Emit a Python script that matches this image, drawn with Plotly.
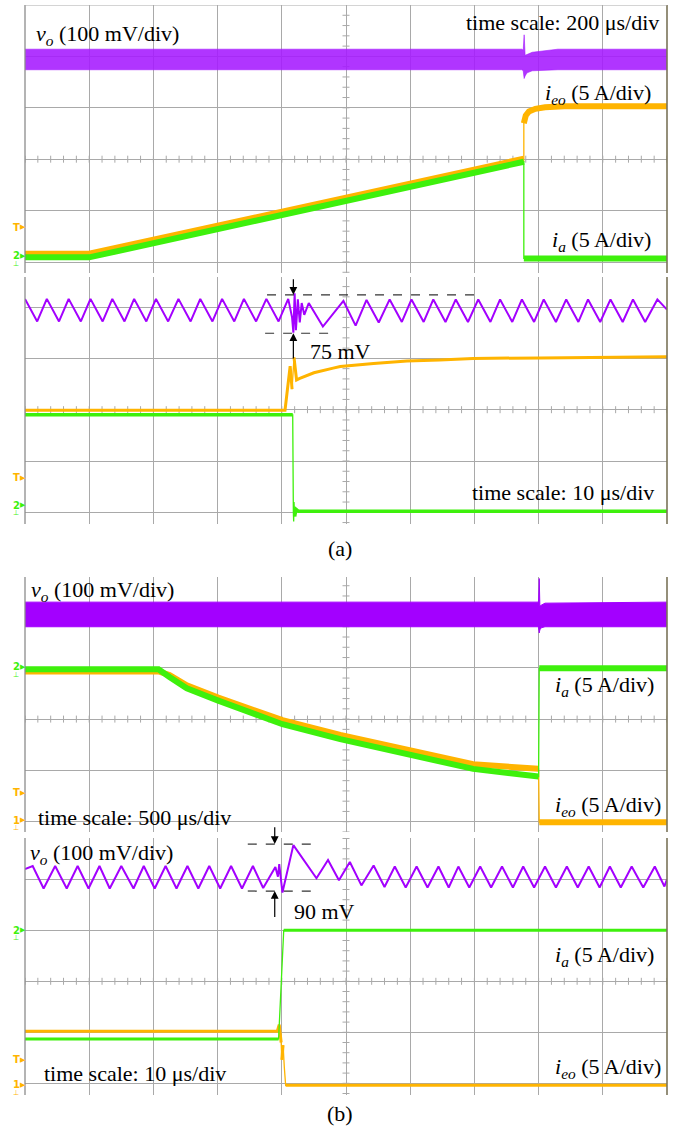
import plotly.graph_objects as go
import numpy as np

W, H = 680, 1134
SERIF = "Liberation Serif"
PURPLE = "#a300ff"
GREEN = "#3ef00c"
ORANGE = "#ffb400"
GRID = "#a9a9a9"

# ---------------- data (screen divisions) ----------------
# (a) top: 200 us/div
a1_vo_t = [0, 7.74, 7.76, 7.775, 7.79, 7.82, 7.9, 8.3, 10]
a1_vo_hi = [4.14, 4.14, 4.12, 4.42, 4.02, 4.04, 4.08, 4.14, 4.14]
a1_vo_lo = [3.74, 3.74, 3.72, 3.57, 3.62, 3.68, 3.72, 3.74, 3.74]
a1_ieo_t = [0, 1.0, 7.77, 7.77, 7.80, 7.85, 7.95, 8.1, 8.4, 10]
a1_ieo_v = [0.16, 0.16, 2.01, 2.70, 2.85, 2.93, 2.98, 3.01, 3.03, 3.03]
a1_ia_t = [0, 1.0, 7.77, 7.77, 10]
a1_ia_v = [0.09, 0.09, 1.95, 0.07, 0.07]

# (a) bottom: 10 us/div
a2_vo_t = [0.00, 0.19, 0.34, 0.53, 0.68, 0.87, 1.02, 1.21, 1.36, 1.55, 1.70, 1.89,
           2.04, 2.23, 2.39, 2.58, 2.73, 2.92, 3.07, 3.26, 3.41, 3.60, 3.76, 3.95,
           4.10, 4.16, 4.18, 4.20, 4.22, 4.25, 4.28, 4.31, 4.35, 4.42, 4.64, 4.96,
           5.15, 5.32, 5.51, 5.68, 5.87, 6.02, 6.21, 6.36, 6.55, 6.71, 6.90, 7.06,
           7.25, 7.40, 7.59, 7.74, 7.93, 8.08, 8.27, 8.43, 8.62, 8.77, 8.96, 9.12,
           9.31, 9.47, 9.66, 9.85, 10.0]
a2_vo_v = [4.16, 3.72, 4.16, 3.72, 4.16, 3.72, 4.16, 3.72, 4.16, 3.72, 4.16, 3.72,
           4.16, 3.72, 4.16, 3.72, 4.16, 3.72, 4.16, 3.72, 4.16, 3.72, 4.16, 3.72,
           4.16, 3.80, 3.50, 4.27, 3.55, 4.15, 3.70, 4.08, 3.85, 4.08, 3.62, 4.12,
           3.64, 4.14, 3.70, 4.15, 3.71, 4.15, 3.71, 4.15, 3.71, 4.15, 3.71, 4.15,
           3.71, 4.15, 3.71, 4.15, 3.71, 4.15, 3.71, 4.15, 3.71, 4.15, 3.71, 4.15,
           3.71, 4.15, 3.71, 4.15, 3.95]
a2_ieo_t = [0, 4.05, 4.13, 4.16, 4.19, 4.23, 4.28, 4.50, 4.80, 4.91, 5.43, 5.95, 6.46, 6.98, 8.02, 10.0]
a2_ieo_v = [1.99, 1.99, 2.85, 2.40, 3.02, 2.58, 2.61, 2.72, 2.81, 2.84, 2.90, 2.95, 2.97, 3.00, 3.01, 3.03]
a2_ia_t = [0, 4.17, 4.18, 4.185, 4.19, 4.20, 4.22, 4.26, 10]
a2_ia_v = [1.90, 1.90, 0.00, -0.18, 0.20, -0.08, 0.06, 0.02, 0.02]

# (b) top: 500 us/div
b1_vo_t = [0, 7.99, 8.0, 8.01, 8.02, 8.04, 8.1, 10]
b1_vo_hi = [4.28, 4.28, 4.30, 4.74, 4.20, 4.22, 4.26, 4.28]
b1_vo_lo = [3.80, 3.80, 3.78, 3.68, 3.74, 3.78, 3.80, 3.80]
b1_ia_t = [0, 2.08, 2.25, 2.52, 3.01, 3.50, 4.01, 4.91, 5.95, 6.98, 8.0, 8.01, 10]
b1_ia_v = [2.97, 2.97, 2.82, 2.60, 2.36, 2.12, 1.90, 1.61, 1.32, 1.03, 0.88, 2.99, 2.99]
b1_ieo_t = [0, 2.08, 2.25, 2.52, 3.01, 3.50, 4.01, 4.91, 5.95, 6.98, 8.0, 8.01, 10]
b1_ieo_v = [2.93, 2.93, 2.86, 2.66, 2.42, 2.19, 1.98, 1.69, 1.40, 1.12, 1.03, -0.01, -0.01]

# (b) bottom: 10 us/div
b2_vo_t = [0.00, 0.12, 0.29, 0.47, 0.65, 0.82, 0.99, 1.16, 1.32, 1.50, 1.69, 1.85,
           2.02, 2.19, 2.36, 2.53, 2.70, 2.87, 3.04, 3.21, 3.38, 3.55, 3.71, 3.90,
           3.94, 3.96, 4.01, 4.18, 4.54, 4.72, 4.89, 5.06, 5.24, 5.43, 5.60, 5.76,
           5.93, 6.10, 6.27, 6.44, 6.60, 6.75, 6.92, 7.09, 7.26, 7.43, 7.60, 7.76,
           7.93, 8.10, 8.27, 8.44, 8.61, 8.78, 8.95, 9.11, 9.28, 9.45, 9.63, 9.81,
           9.96, 10.0]
b2_vo_v = [4.20, 4.26, 3.82, 4.26, 3.82, 4.26, 3.82, 4.26, 3.82, 4.26, 3.82, 4.26,
           3.82, 4.26, 3.82, 4.26, 3.82, 4.26, 3.82, 4.26, 3.82, 4.26, 3.83, 4.24,
           4.05, 4.30, 3.74, 4.67, 4.02, 4.38, 3.98, 4.34, 3.88, 4.27, 3.85, 4.25,
           3.84, 4.25, 3.84, 4.25, 3.84, 4.25, 3.84, 4.25, 3.84, 4.25, 3.84, 4.25,
           3.84, 4.25, 3.84, 4.25, 3.84, 4.25, 3.84, 4.25, 3.84, 4.25, 3.84, 4.25,
           3.86, 4.00]
b2_ia_t = [0, 3.95, 4.03, 10]
b2_ia_v = [0.87, 0.87, 3.00, 3.00]
b2_ieo_t = [0, 3.93, 3.96, 3.99, 4.00, 4.02, 4.04, 4.06, 10]
b2_ieo_v = [1.02, 1.02, 1.15, 0.80, 0.46, 0.75, 0.30, -0.04, -0.04]

# measurement marks
a2_meas_t = 4.18
a2_dash_hi = [4.24, 3.77, 7.13]   # level, start, end
a2_dash_lo = [3.49, 3.74, 4.83]
a2_arrow_down = [4.57, 4.24]      # tail, head
a2_arrow_up = [2.97, 3.49]
b2_meas_t = 3.89
b2_dash_hi = [4.69, 3.47, 4.56]
b2_dash_lo = [3.77, 3.47, 4.56]
b2_arrow_down = [5.05, 4.69]
b2_arrow_up = [3.23, 3.77]

# channel markers (label, colour, level)
markers = [
    [("T", ORANGE, 0.68), ("2", GREEN, 0.12)],
    [("T", ORANGE, 0.67), ("2", GREEN, 0.14)],
    [("2", GREEN, 3.02), ("T", ORANGE, 0.56), ("1", ORANGE, 0.03)],
    [("2", GREEN, 3.00), ("T", ORANGE, 0.46), ("1", ORANGE, -0.03)],
]

# ---------------- layout geometry (pixels) ----------------
X_LEFT, X_RIGHT = 25, 667
# (top px, bottom px, zero-line px, px per division)
panels = [(5, 273, 262.0, 51.4), (277, 524, 512.3, 51.3),
          (577, 832, 821.7, 51.3), (838, 1095, 1083.3, 51.0)]

fig = go.Figure()
layout = dict(width=W, height=H, margin=dict(l=0, r=0, t=0, b=0),
              paper_bgcolor="white", plot_bgcolor="white", showlegend=False)

for i, (top, bot, zero, div) in enumerate(panels):
    n = "" if i == 0 else str(i + 1)
    ymin = (zero - bot) / div
    ymax = (zero - top) / div
    layout["xaxis" + n] = dict(domain=[X_LEFT / W, X_RIGHT / W], range=[0, 10],
                               anchor="y" + n, showgrid=True, dtick=1, tick0=0,
                               gridcolor=GRID, gridwidth=1, zeroline=False,
                               showticklabels=False, ticks="", showline=False, fixedrange=True)
    layout["yaxis" + n] = dict(domain=[1 - bot / H, 1 - top / H], range=[ymin, ymax],
                               anchor="x" + n, showgrid=True, dtick=1, tick0=0,
                               gridcolor=GRID, gridwidth=1, zeroline=False,
                               showticklabels=False, ticks="", showline=False, fixedrange=True)
fig.update_layout(**layout)


def axn(i):
    return ("x" if i == 0 else "x%d" % (i + 1)), ("y" if i == 0 else "y%d" % (i + 1))


def thick_segments(t, v, thr=15.0):
    tt, vv = [t[0]], [v[0]]
    for k in range(1, len(t)):
        dt = t[k] - t[k - 1]
        dv = v[k] - v[k - 1]
        if dt == 0 or abs(dv / dt) > thr:
            tt.append(None)
            vv.append(None)
        tt.append(t[k])
        vv.append(v[k])
    return tt, vv


def add_current(i, t, v, color, w):
    xa, ya = axn(i)
    fig.add_trace(go.Scatter(x=t, y=v, mode="lines", xaxis=xa, yaxis=ya,
                             line=dict(color=color, width=1.3), hoverinfo="skip"))
    tt, vv = thick_segments(t, v)
    fig.add_trace(go.Scatter(x=tt, y=vv, mode="lines", xaxis=xa, yaxis=ya,
                             line=dict(color=color, width=w), connectgaps=False,
                             hoverinfo="skip"))


def add_band(i, t, lo, hi, color, edge):
    xa, ya = axn(i)
    fig.add_trace(go.Scatter(x=t, y=lo, mode="lines", xaxis=xa, yaxis=ya,
                             line=dict(color=edge, width=1), hoverinfo="skip"))
    fig.add_trace(go.Scatter(x=t, y=hi, mode="lines", xaxis=xa, yaxis=ya, fill="tonexty",
                             fillcolor=color, line=dict(color=edge, width=1),
                             hoverinfo="skip"))


def add_wave(i, t, v, color, w=2):
    xa, ya = axn(i)
    fig.add_trace(go.Scatter(x=t, y=v, mode="lines", xaxis=xa, yaxis=ya,
                             line=dict(color=color, width=w), hoverinfo="skip"))


# minor graticule ticks on the centre lines
for i, (top, bot, zero, div) in enumerate(panels):
    xa, ya = axn(i)
    ymin = (zero - bot) / div
    ymax = (zero - top) / div
    hx = np.arange(0, 10.001, 0.2)
    fig.add_trace(go.Scatter(x=hx, y=[2] * len(hx), mode="markers", xaxis=xa, yaxis=ya,
                             marker=dict(symbol="line-ns", size=5, color=GRID,
                                         line=dict(color=GRID, width=1)), hoverinfo="skip"))
    vy = np.arange(np.ceil(ymin * 5) / 5, ymax, 0.2)
    fig.add_trace(go.Scatter(x=[5] * len(vy), y=vy, mode="markers", xaxis=xa, yaxis=ya,
                             marker=dict(symbol="line-ew", size=5, color=GRID,
                                         line=dict(color=GRID, width=1)), hoverinfo="skip"))

# panel 1
add_band(0, a1_vo_t, a1_vo_lo, a1_vo_hi, "rgba(165,25,255,0.88)", "rgba(165,25,255,0.6)")
add_current(0, a1_ieo_t, a1_ieo_v, ORANGE, 6)
add_current(0, a1_ia_t, a1_ia_v, GREEN, 6)
# panel 2
add_wave(1, a2_vo_t, a2_vo_v, PURPLE, 2)
add_current(1, a2_ieo_t, a2_ieo_v, ORANGE, 3)
add_current(1, a2_ia_t, a2_ia_v, GREEN, 3.5)
# panel 3
add_band(2, b1_vo_t, b1_vo_lo, b1_vo_hi, PURPLE, PURPLE)
add_current(2, b1_ieo_t, b1_ieo_v, ORANGE, 6)
add_current(2, b1_ia_t, b1_ia_v, GREEN, 6)
# panel 4
add_wave(3, b2_vo_t, b2_vo_v, PURPLE, 2)
add_current(3, b2_ieo_t, b2_ieo_v, ORANGE, 3)
add_current(3, b2_ia_t, b2_ia_v, GREEN, 3)

shapes = []
annotations = []

# borders
for i in range(4):
    xa, ya = axn(i)
    shapes.append(dict(type="line", xref=xa + " domain", yref=ya + " domain",
                       x0=0, x1=0, y0=0, y1=1, line=dict(color="#8c8c8c", width=1.3)))
    shapes.append(dict(type="line", xref=xa + " domain", yref=ya + " domain",
                       x0=1, x1=1, y0=0, y1=1, line=dict(color="#7a7358", width=1.6)))
shapes.append(dict(type="line", xref="x domain", yref="y", x0=0, x1=1, y0=5, y1=5,
                   line=dict(color=GRID, width=1)))

# dashed measurement lines
for i, (dh, dl) in [(1, (a2_dash_hi, a2_dash_lo)), (3, (b2_dash_hi, b2_dash_lo))]:
    xa, ya = axn(i)
    for d in (dh, dl):
        shapes.append(dict(type="line", xref=xa, yref=ya, x0=d[1], x1=d[2], y0=d[0], y1=d[0],
                           line=dict(color="#333333", width=1.2, dash="dash")))
fig.update_layout(shapes=shapes)

# arrows
for i, t, arrs in [(1, a2_meas_t, (a2_arrow_down, a2_arrow_up)),
                   (3, b2_meas_t, (b2_arrow_down, b2_arrow_up))]:
    xa, ya = axn(i)
    for a in arrs:
        annotations.append(dict(x=t, y=a[1], ax=t, ay=a[0], xref=xa, yref=ya,
                                axref=xa, ayref=ya, text="", showarrow=True,
                                arrowhead=2, arrowsize=1.3, arrowwidth=1.2,
                                arrowcolor="black", standoff=0, startstandoff=0))


def label(text, px, py, anchor="left", size=22):
    annotations.append(dict(x=px / W, y=1 - py / H, xref="paper", yref="paper",
                            text=text, showarrow=False, xanchor=anchor, yanchor="middle",
                            font=dict(family=SERIF, size=size, color="black")))


VO = "<i>v</i><sub><i>o</i></sub> (100 mV/div)"
IEO = "<i>i</i><sub><i>eo</i></sub> (5 A/div)"
IA = "<i>i</i><sub><i>a</i></sub> (5 A/div)"

label(VO, 34, 35)
label("time scale: 200 μs/div", 661, 22, "right")
label(IEO, 543, 94)
label(IA, 550, 241)
label("75 mV", 308, 351)
label("time scale: 10 μs/div", 656, 492, "right")
label(VO, 29, 591)
label(IA, 553, 686)
label("time scale: 500 μs/div", 36, 817)
label(IEO, 553, 806)
label(VO, 28, 854)
label("90 mV", 292, 911)
label(IA, 553, 956)
label("time scale: 10 μs/div", 42, 1073)
label(IEO, 553, 1068)
label("(a)", 340, 548, "center")
label("(b)", 340, 1113, "center")

# channel marker glyphs (number / trigger letter plus pointer)
for i, mk in enumerate(markers):
    xa, ya = axn(i)
    for txt, col, lvl in mk:
        annotations.append(dict(x=16 / W, y=lvl, xref="paper", yref=ya, text="<b>%s</b>" % txt,
                                showarrow=False, xanchor="center", yanchor="middle",
                                font=dict(family="DejaVu Sans", size=10, color=col)))
        annotations.append(dict(x=22.5 / W, y=lvl, xref="paper", yref=ya, text="▶",
                                showarrow=False, xanchor="center", yanchor="middle",
                                font=dict(family="DejaVu Sans", size=7, color=col)))
        if txt != "T":
            annotations.append(dict(x=16 / W, y=lvl, xref="paper", yref=ya, text="⊥",
                                    yshift=-8, showarrow=False, xanchor="center",
                                    yanchor="middle",
                                    font=dict(family="DejaVu Sans", size=7, color=col)))

fig.update_layout(annotations=annotations)
fig.write_html("out.html", config={"displayModeBar": False},
               post_script="document.body.style.margin='0';document.body.style.overflow='hidden';")
